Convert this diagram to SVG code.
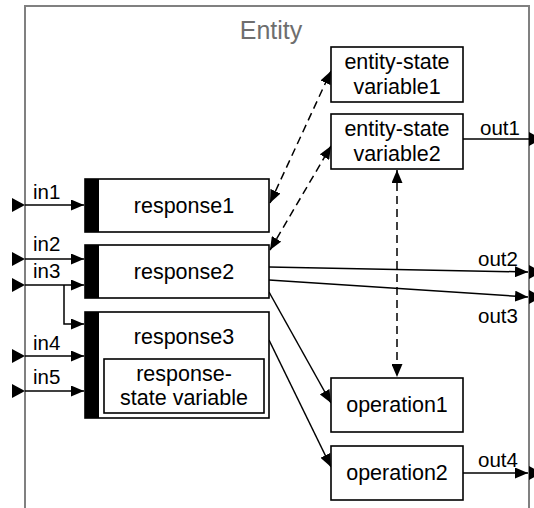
<svg xmlns="http://www.w3.org/2000/svg" width="534" height="508" viewBox="0 0 534 508">
<style>
  .box { fill: #fff; stroke: #000; stroke-width: 1.6; }
  .bar { fill: #000; }
  .lbl { font-family: "Liberation Sans", Arial, sans-serif; font-size: 21.5px; fill: #000; text-anchor: middle; }
  .port { font-family: "Liberation Sans", Arial, sans-serif; font-size: 20.5px; fill: #000; }
  .title { font-family: "Liberation Sans", Arial, sans-serif; font-size: 25px; fill: #6e6e6e; text-anchor: middle; }
  .wire { fill: none; stroke: #000; stroke-width: 1.5; }
  .dash { fill: none; stroke: #000; stroke-width: 1.5; stroke-dasharray: 8 5; }
  .tri { fill: #000; }
</style>
<defs>
  <marker id="arr" markerUnits="userSpaceOnUse" markerWidth="13" markerHeight="11" refX="13" refY="5.5" orient="auto-start-reverse">
    <path d="M0,0 L13,5.5 L0,11 z" fill="#000"/>
  </marker>
</defs>

<g id="entity">
  <rect x="25" y="6" width="504" height="520" fill="none" stroke="#808080" stroke-width="2"/>
  <text class="title" x="271" y="39">Entity</text>
</g>

<g id="ports">
  <polygon class="tri" points="12,198 25,205 12,212"/>
  <polygon class="tri" points="12,252 25,259 12,266"/>
  <polygon class="tri" points="12,278 25,285 12,292"/>
  <polygon class="tri" points="12,349 25,356 12,363"/>
  <polygon class="tri" points="12,384 25,391 12,398"/>
  <polygon class="tri" points="529,132 542,139 529,146"/>
  <polygon class="tri" points="529,265 542,272 529,279"/>
  <polygon class="tri" points="529,290 542,297 529,304"/>
  <polygon class="tri" points="529,466 542,473 529,480"/>
  <text class="port" x="33" y="199">in1</text>
  <text class="port" x="33" y="251">in2</text>
  <text class="port" x="33" y="278">in3</text>
  <text class="port" x="33" y="350">in4</text>
  <text class="port" x="33" y="384">in5</text>
  <text class="port" x="480" y="135">out1</text>
  <text class="port" x="478" y="266">out2</text>
  <text class="port" x="478" y="323">out3</text>
  <text class="port" x="478" y="467">out4</text>
</g>

<g id="connectors">
  <line class="wire" x1="25" y1="205" x2="84" y2="205" marker-end="url(#arr)"/>
  <line class="wire" x1="25" y1="259" x2="84" y2="259" marker-end="url(#arr)"/>
  <line class="wire" x1="25" y1="285" x2="84" y2="285" marker-end="url(#arr)"/>
  <polyline class="wire" points="64,285 64,324 84,324" marker-end="url(#arr)"/>
  <line class="wire" x1="25" y1="356" x2="84" y2="356" marker-end="url(#arr)"/>
  <line class="wire" x1="25" y1="391" x2="84" y2="391" marker-end="url(#arr)"/>
  <line class="wire" x1="463" y1="139" x2="529" y2="139"/>
  <line class="wire" x1="269" y1="267" x2="528" y2="272" marker-end="url(#arr)"/>
  <line class="wire" x1="269" y1="280" x2="528" y2="297" marker-end="url(#arr)"/>
  <line class="wire" x1="463" y1="473" x2="528" y2="473" marker-end="url(#arr)"/>
  <line class="wire" x1="269" y1="292" x2="331" y2="403" marker-end="url(#arr)"/>
  <line class="wire" x1="269" y1="340" x2="331" y2="467" marker-end="url(#arr)"/>
  <line class="dash" x1="270" y1="203" x2="331" y2="71" marker-start="url(#arr)" marker-end="url(#arr)"/>
  <line class="dash" x1="270" y1="250" x2="331" y2="146" marker-start="url(#arr)" marker-end="url(#arr)"/>
  <line class="dash" x1="397" y1="170" x2="397" y2="377" marker-start="url(#arr)" marker-end="url(#arr)"/>
</g>

<g id="response1">
  <rect class="box" x="85" y="179" width="184" height="53"/>
  <rect class="bar" x="85" y="179" width="14" height="53"/>
  <text class="lbl" x="184" y="213">response1</text>
</g>
<g id="response2">
  <rect class="box" x="85" y="245" width="184" height="53"/>
  <rect class="bar" x="85" y="245" width="14" height="53"/>
  <text class="lbl" x="184" y="279">response2</text>
</g>
<g id="response3">
  <rect class="box" x="85" y="312" width="184" height="106"/>
  <rect class="bar" x="85" y="312" width="14" height="106"/>
  <text class="lbl" x="184" y="344">response3</text>
  <rect class="box" x="104" y="359" width="160" height="54"/>
  <text class="lbl" x="184" y="381">response-</text>
  <text class="lbl" x="184" y="405">state variable</text>
</g>
<g id="var1">
  <rect class="box" x="331" y="47" width="132" height="55"/>
  <text class="lbl" x="397" y="69">entity-state</text>
  <text class="lbl" x="397" y="94">variable1</text>
</g>
<g id="var2">
  <rect class="box" x="331" y="114" width="132" height="55"/>
  <text class="lbl" x="397" y="136">entity-state</text>
  <text class="lbl" x="397" y="161">variable2</text>
</g>
<g id="operation1">
  <rect class="box" x="331" y="378" width="132" height="54"/>
  <text class="lbl" x="397" y="412">operation1</text>
</g>
<g id="operation2">
  <rect class="box" x="331" y="446" width="132" height="54"/>
  <text class="lbl" x="397" y="480">operation2</text>
</g>
</svg>
